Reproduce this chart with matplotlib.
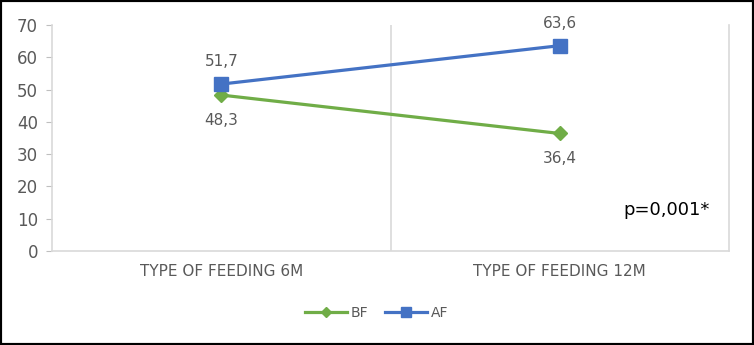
import matplotlib.pyplot as plt
from matplotlib.patches import Rectangle

categories = ["TYPE OF FEEDING 6M", "TYPE OF FEEDING 12M"]
bf = [48.3, 36.4]
af = [51.7, 63.6]
bf_labels = ["48,3", "36,4"]
af_labels = ["51,7", "63,6"]

green = '#70AD47'
blue = '#4472C4'
gray = '#595959'

fig = plt.figure(figsize=(7.54, 3.45), dpi=100)
ax = fig.add_axes([52/754, 94/345, 677/754, 226/345])
x = [0.5, 1.5]
ax.plot(x, bf, color=green, lw=2.3, marker='D', ms=7, label='BF', zorder=3)
ax.plot(x, af, color=blue, lw=2.3, marker='s', ms=10, label='AF', zorder=4)

for xi, v, t in zip(x, bf, bf_labels):
    ax.annotate(t, (xi, v), xytext=(0, -18), textcoords='offset points',
                ha='center', va='center', color=gray, fontsize=11)
for xi, v, t in zip(x, af, af_labels):
    ax.annotate(t, (xi, v), xytext=(0, 16), textcoords='offset points',
                ha='center', va='center', color=gray, fontsize=11)

ax.set_xlim(0, 2)
ax.set_ylim(0, 70)
ax.set_yticks(range(0, 71, 10))
ax.set_xticks(x)
ax.set_xticklabels(categories, fontsize=11, color=gray)
ax.tick_params(axis='y', colors='#bfbfbf', labelcolor=gray, labelsize=12, length=4, pad=6)
ax.tick_params(axis='x', length=0, pad=9)
ax.spines['top'].set_visible(False)
for s in ['left', 'bottom', 'right']:
    ax.spines[s].set_color('#d9d9d9')
    ax.spines[s].set_linewidth(1.2)
ax.axvline(1, color='#d9d9d9', lw=1.2, zorder=1)

ax.text(0.972, 0.18, "p=0,001*", transform=ax.transAxes, ha='right', va='center',
        fontsize=13, color='black')

fig.legend(loc='center', bbox_to_anchor=(0.5, 32/345), ncol=2, frameon=False,
           fontsize=10, labelcolor=gray, handlelength=3, columnspacing=1.2,
           handletextpad=0.3, markerscale=0.7)

fig.patches.append(Rectangle((0, 0), 1, 1, transform=fig.transFigure,
                             fill=False, edgecolor='black', lw=3))

fig.savefig('out.png', dpi=100)
